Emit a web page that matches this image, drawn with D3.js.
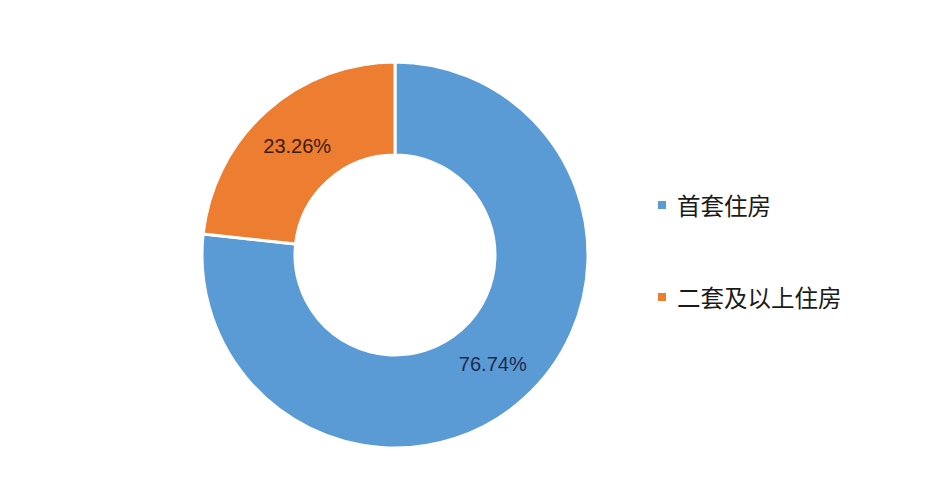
<!DOCTYPE html>
<html>
<head>
<meta charset="utf-8">
<script src="https://cdn.jsdelivr.net/npm/d3@7"></script>
<style>
html,body{margin:0;padding:0;background:#fff;}
svg{display:block;}
</style>
</head>
<body>
<svg id="chart" width="942" height="478"></svg>
<script>
const categories = ["首套住房", "二套及以上住房"];
const values = [76.74, 23.26];
const labels = ["76.74%", "23.26%"];
const colors = ["#5B9BD5", "#ED7D31"];
const labelColors = ["#1c2b4e", "#3a1c0c"];

const svg = d3.select("#chart");
const cx = 395, cy = 255, outerR = 193, innerR = 100;

const pie = d3.pie().value(d => d).sort(null);
const arc = d3.arc().innerRadius(innerR).outerRadius(outerR);
const arcs = pie(values);

const g = svg.append("g").attr("transform", `translate(${cx},${cy})`);
g.selectAll("path").data(arcs).enter().append("path")
  .attr("d", arc)
  .attr("fill", (d, i) => colors[i])
  .attr("stroke", "#fff")
  .attr("stroke-width", 3);

g.selectAll("text.lbl").data(arcs).enter().append("text")
  .attr("class", "lbl")
  .attr("transform", d => `translate(${arc.centroid(d)})`)
  .attr("text-anchor", "middle")
  .attr("dominant-baseline", "central")
  .attr("font-family", "'Liberation Sans', Arial, sans-serif")
  .attr("font-size", 20)
  .attr("fill", (d, i) => labelColors[i])
  .text((d, i) => labels[i]);

const legend = svg.append("g");
const ly = d3.scalePoint().domain(categories).range([205, 297]);
const items = legend.selectAll("g").data(categories).enter().append("g")
  .attr("transform", d => `translate(658,${ly(d)})`);
items.append("rect")
  .attr("x", 0).attr("y", -4).attr("width", 8).attr("height", 8)
  .attr("fill", (d, i) => colors[i]);
items.append("text")
  .attr("x", 19).attr("y", 0)
  .attr("dominant-baseline", "central")
  .attr("font-family", "'Noto Sans CJK SC', sans-serif")
  .attr("font-size", 23.5)
  .attr("fill", "#1a1a1a")
  .text(d => d);
</script>
</body>
</html>
